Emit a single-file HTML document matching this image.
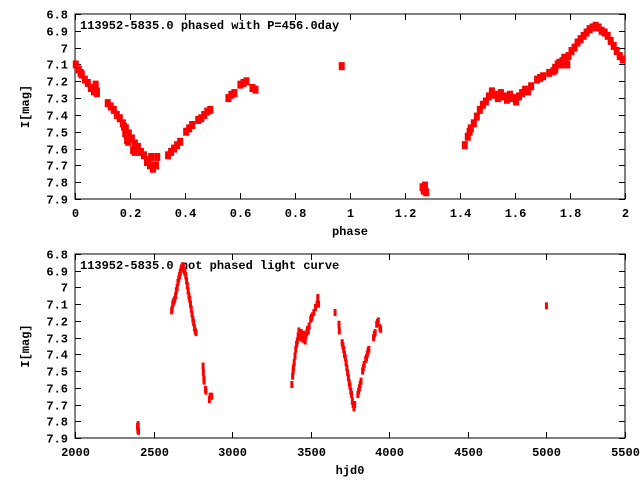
<!DOCTYPE html>
<html><head><meta charset="utf-8"><style>
body{margin:0;background:#fff;}
svg{display:block;font-family:"Liberation Mono",monospace;font-size:12px;font-weight:bold;}
</style></head><body>
<svg id="chart" width="640" height="480" viewBox="0 0 640 480" xmlns="http://www.w3.org/2000/svg">
<rect width="640" height="480" fill="#fff"/>
</svg>
<script>
const hjd = [2398,2400,2402,2404,
2615,2618,2622,2625,2630,2635,2640,2645,2650,2655,2660,2665,2670,2675,2680,2685,2690,2695,2700,2705,2710,2715,2720,2725,2730,2735,2740,2745,2750,2755,2760,2765,2770,
2815,2817,2820,2822,2830,2833,2855,2860,2870,
3380,3385,3388,3390,3395,3400,3405,3410,3415,3420,3425,3430,3435,3440,3445,3450,3455,3460,3465,3470,3475,3480,3485,3490,3500,3505,3510,3520,3530,3540,3545,3550,
3655,3680,3682,
3700,3705,3710,3715,3720,3725,3730,3735,3740,3745,3750,3755,3760,3765,3770,3775,3780,
3800,3805,3810,3815,3820,3830,3835,3840,3850,3855,3860,3865,3870,3900,3905,3910,3920,3925,3930,3940,3945,
5000];
const mag = [7.83,7.85,7.82,7.86,
7.14,7.13,7.10,7.09,7.08,7.07,7.05,7.02,7.00,6.97,6.95,6.93,6.91,6.89,6.88,6.87,6.88,6.90,6.91,6.93,6.96,6.99,7.02,7.05,7.07,7.10,7.13,7.16,7.19,7.21,7.24,7.26,7.27,
7.47,7.51,7.55,7.56,7.61,7.62,7.67,7.65,7.65,
7.58,7.53,7.50,7.48,7.45,7.41,7.37,7.34,7.32,7.29,7.26,7.28,7.30,7.27,7.29,7.31,7.28,7.30,7.32,7.29,7.27,7.25,7.26,7.23,7.19,7.18,7.17,7.15,7.12,7.10,7.06,7.10,
7.15,7.22,7.26,
7.33,7.35,7.37,7.40,7.42,7.45,7.48,7.51,7.54,7.57,7.59,7.62,7.64,7.68,7.70,7.72,7.70,
7.64,7.62,7.60,7.58,7.56,7.50,7.48,7.46,7.43,7.42,7.40,7.38,7.37,7.30,7.28,7.27,7.22,7.21,7.20,7.24,7.25,
7.11];
const period = 456.0;
const epoch = 4557.7;
const magTicks = ["6.8","6.9","7","7.1","7.2","7.3","7.4","7.5","7.6","7.7","7.8","7.9"];
const phaseTicks = ["0","0.2","0.4","0.6","0.8","1","1.2","1.4","1.6","1.8","2"];
const hjdTicks = ["2000","2500","3000","3500","4000","4500","5000","5500"];

const svg = document.getElementById('chart');
const NS = 'http://www.w3.org/2000/svg';
function mk(tag, attrs){const e=document.createElementNS(NS,tag);for(const k in attrs)e.setAttribute(k,attrs[k]);svg.appendChild(e);return e;}

function panel(cfg){
  const L=75,R=625,T=cfg.top,B=cfg.bottom;
  const xs=v=>L+(v-cfg.xmin)/(cfg.xmax-cfg.xmin)*(R-L);
  const ys=v=>T+(v-6.8)/(7.9-6.8)*(B-T);
  const f=mk('rect',{x:L,y:T,width:R-L,height:B-T,fill:'none',stroke:'#000','stroke-width':1});
  
  
  magTicks.forEach(t=>{
    const y=Math.round(ys(parseFloat(t)))+0.5;
    const l=mk('path',{d:`M${L} ${y}h6M${R} ${y}h-6`,stroke:'#000'});
    
    
    const tx=mk('text',{x:L-7,y:y+4,'text-anchor':'end'});tx.textContent=t;
    
    
  });
  cfg.ticks.forEach(t=>{
    const x=Math.round(xs(parseFloat(t)))+0.5;
    const l=mk('path',{d:`M${x} ${B}v-6M${x} ${T}v6`,stroke:'#000'});
    
    
    const tx=mk('text',{x:x,y:B+18,'text-anchor':'middle'});tx.textContent=t;
    
    
  });
  const yl=mk('text',{x:0,y:0,'text-anchor':'middle',transform:`translate(29 ${(T+B)/2}) rotate(-90)`});yl.textContent='I[mag]';
  
  
  const xl=mk('text',{x:(L+R)/2,y:B+36,'text-anchor':'middle'});xl.textContent=cfg.xlabel;
  
  
  const ti=mk('text',{x:80,y:T+15});ti.textContent=cfg.title;
  
  
  cfg.xv.forEach((v,i)=>{
    const p=mk('rect',{x:xs(v)-cfg.mw/2,y:ys(mag[i])-cfg.mh/2,width:cfg.mw,height:cfg.mh,fill:'#f00'});
    
    
  });
}
const phase = hjd.map(h=>{let p=((h-epoch)/period)%2;if(p<0)p+=2;return p;});
panel({id:'phased',top:14,bottom:199,xmin:0,xmax:2,ticks:phaseTicks,xlabel:'phase',title:'113952-5835.0 phased with P=456.0day',xv:phase,mw:6,mh:8});
panel({id:'unphased',top:254,bottom:438,xmin:2000,xmax:5500,ticks:hjdTicks,xlabel:'hjd0',title:'113952-5835.0 not phased light curve',xv:hjd,mw:3,mh:7});
</script>
</body></html>
